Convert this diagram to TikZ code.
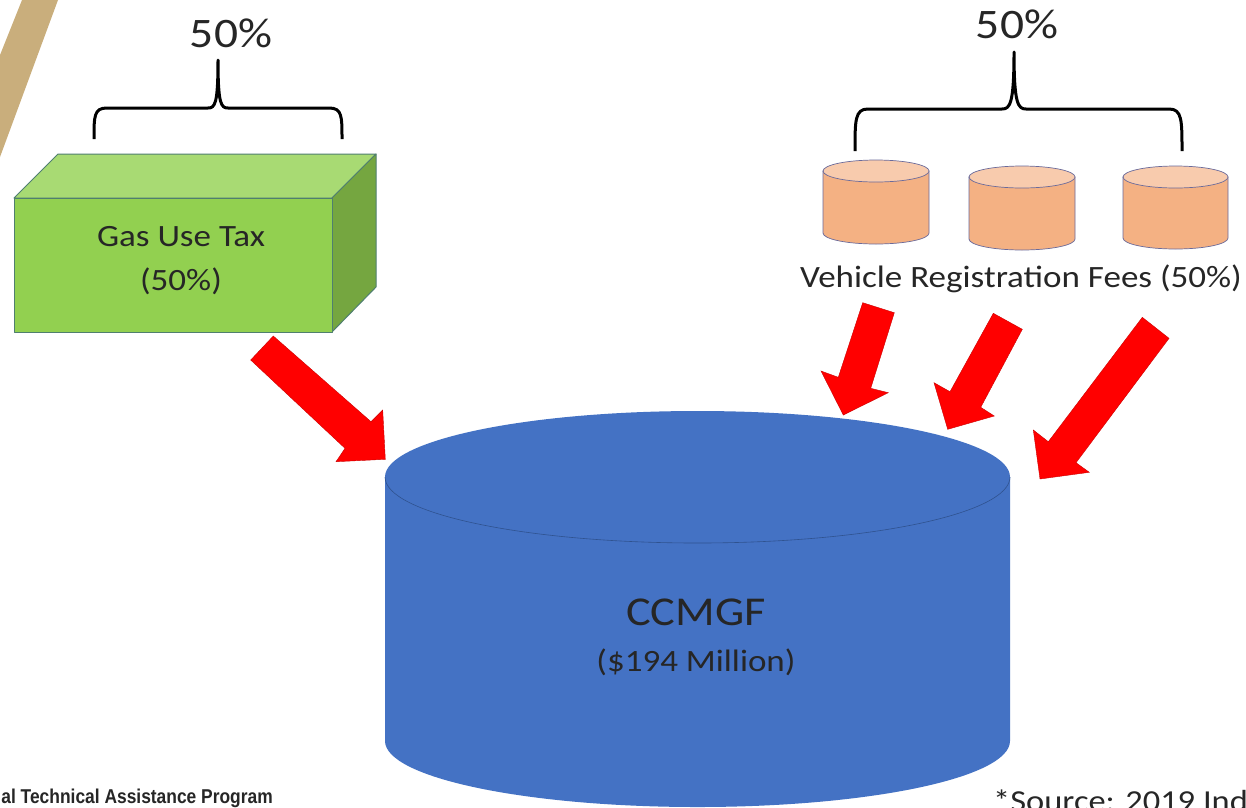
\documentclass[tikz,border=0pt]{standalone}
\usepackage{fontspec}
\setmainfont[FakeStretch=1.13]{Carlito}
\newfontfamily\footfont[FakeStretch=0.87]{Liberation Sans}
\definecolor{tan}{HTML}{C9AE7C}
\definecolor{boxfront}{HTML}{92D050}
\definecolor{boxtop}{HTML}{A8DA73}
\definecolor{boxside}{HTML}{75A640}
\definecolor{boxline}{HTML}{4F7F6F}
\definecolor{canbody}{HTML}{F4B183}
\definecolor{cantop}{HTML}{F8CBAD}
\definecolor{canline}{HTML}{6A6A9A}
\definecolor{bigblue}{HTML}{4472C4}
\definecolor{bigline}{HTML}{2F528F}
\definecolor{inktext}{HTML}{262626}
\tikzset{
  x=1pt,y=-1pt,
  brace/.style={draw=black,line width=3pt,line cap=butt,line join=round},
  redarrow/.style={fill=red,draw=red!80!black,line width=0.4pt,line join=miter},
  label/.style={text=inktext,inner sep=0pt,align=center},
  boxedge/.style={draw=boxline,line width=1pt,line join=round},
}
\newcommand{\smallcan}[4]{% left, right, top centre y, bottom side y
  \path[fill=canbody,draw=canline,line width=0.7pt]
    (#1,#3) -- (#1,#4) arc[start angle=180,end angle=0,x radius={(#2-#1)/2},y radius=11] -- (#2,#3) -- cycle;
  \path[fill=cantop,draw=canline,line width=0.7pt]
    ({(#1+#2)/2},#3) ellipse[x radius={(#2-#1)/2},y radius=11];
}
\begin{document}
\begin{tikzpicture}
\useasboundingbox (0,0) rectangle (1246,807);
\fill[white] (0,0) rectangle (1246,807);
% tan strip
\fill[tan] (22,0) -- (58,0) -- (0,157) -- (0,55) -- cycle;
% green box
\path[fill=boxtop,boxedge] (14,198) -- (58,154) -- (376,154) -- (332,198) -- cycle;
\path[fill=boxside,boxedge] (332,198) -- (376,154) -- (376,287) -- (332,332) -- cycle;
\path[fill=boxfront,boxedge] (14,198) rectangle (332,332);
\node[label,font=\fontsize{31}{44}\selectfont] (gastax) at (181,261) {Gas Use Tax\\(50\%)};
% left brace
\coordinate (lbl) at (94,139);
\coordinate (lbr) at (342,139);
\coordinate (lbt) at (218,60);
\draw[brace] (lbl) .. controls (94,116) and (94,108) .. (107,108) -- (208,108)
  .. controls (215,108) and (218,104) .. (lbt)
  .. controls (218,104) and (221,108) .. (228,108) -- (329,108)
  .. controls (342,108) and (342,116) .. (lbr);
\node[label,font=\fontsize{42}{48}\selectfont] (pctl) at (231,33) {50\%};
% right brace
\coordinate (rbl) at (855,151);
\coordinate (rbr) at (1182,151);
\coordinate (rbt) at (1014,52);
\draw[brace] (rbl) .. controls (855,120) and (855,109) .. (868,109) -- (1002,109)
  .. controls (1010,109) and (1014,104) .. (rbt)
  .. controls (1014,104) and (1018,109) .. (1026,109) -- (1169,109)
  .. controls (1182,109) and (1182,120) .. (rbr);
\node[label,font=\fontsize{42}{48}\selectfont] (pctr) at (1017,24) {50\%};
% small cans
\smallcan{823}{929}{171}{233}
\smallcan{969}{1075}{177}{239}
\smallcan{1123}{1228}{177}{238}
\node[label,font=\fontsize{31}{36}\selectfont] (vrf) at (1021,279) {Vehicle Registration Fees (50\%)};
% big can
\path[fill=bigblue] (385,477) -- (385,741) arc[start angle=180,end angle=0,x radius=312.5,y radius=66] -- (1010,477) arc[start angle=0,end angle=-180,x radius=312.5,y radius=66] -- cycle;
\draw[bigline,line width=0.6pt] (385,477) arc[start angle=180,end angle=0,x radius=312.5,y radius=66];
\node[label,text=black!85,font=\fontsize{41}{44}\selectfont] (ccmgf) at (696,612) {CCMGF};
\node[label,font=\fontsize{31}{34}\selectfont] (amount) at (696,662) {(\$194 Million)};
% red arrows
\path[redarrow] (273.3,336) -- (250.7,360) -- (345,448.3) -- (336,461.7) -- (385.3,459.3) -- (382.7,410) -- (371,421.7) -- cycle;
\path[redarrow] (862.7,302.7) -- (894.3,312.7) -- (870.7,388.3) -- (888.3,392.7) -- (843.3,415) -- (821,371) -- (838.3,377.3) -- cycle;
\path[redarrow] (993.3,313.3) -- (1022.3,329.3) -- (980.7,407.3) -- (994.3,416) -- (947.7,429.3) -- (934,382.7) -- (950,391.7) -- cycle;
\path[redarrow] (1142.3,317.3) -- (1169,338.3) -- (1076,462.7) -- (1089.3,472.3) -- (1040,479) -- (1033.3,430) -- (1048.3,441.7) -- cycle;
% clipped footer text
\begin{scope}
\clip (0,0) rectangle (1246,807);
\node[anchor=base east,inner sep=0pt,text=inktext,font=\footfont\bfseries\fontsize{20}{22}\selectfont] (foot) at (273,803) {al Technical Assistance Program};
\node[anchor=base west,inner sep=0pt,text=inktext,font=\fontsize{30.5}{34}\selectfont] (src) at (993,811) {*Source: 2019 Ind};
\end{scope}
\end{tikzpicture}
\end{document}
